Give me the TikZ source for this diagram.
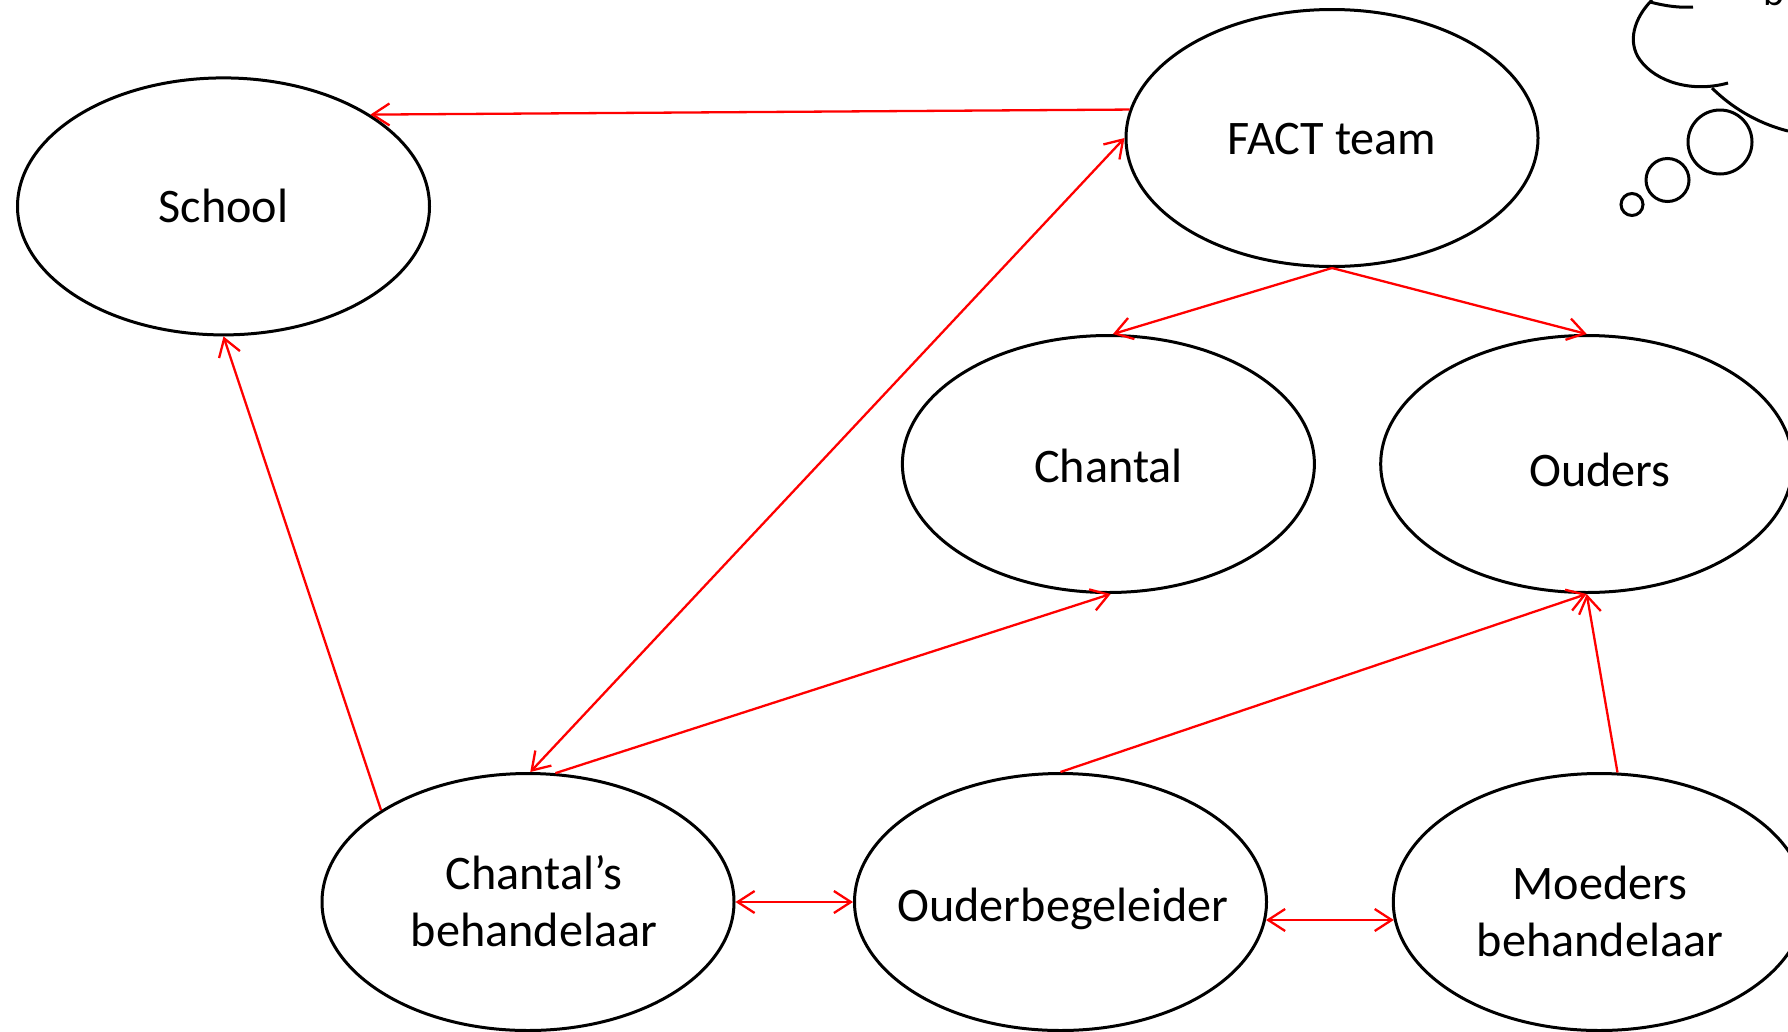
\documentclass[tikz,border=0pt]{standalone}
\usepackage{fontspec}
\setmainfont{Carlito}
\usetikzlibrary{shapes.geometric,arrows.meta}

\tikzset{
  oval/.style={ellipse, draw=black, line width=3pt, minimum width=412pt,
    minimum height=257pt, inner sep=0pt},
  caption/.style={inner sep=0pt, align=center,
    font=\fontsize{48.2}{57}\selectfont},
  link/.style={draw=red, line width=2.3pt,
    -{Straight Barb[length=17pt,width=22pt]}},
  twoway/.style={draw=red, line width=2.3pt,
    {Straight Barb[length=17pt,width=22pt]}-{Straight Barb[length=17pt,width=22pt]}},
  bubble/.style={draw=black, line width=3pt}
}

\begin{document}
\begin{tikzpicture}[x=1pt,y=-1pt]
\useasboundingbox (0,0) rectangle (1788,1031);

% the people and organisations
\node[oval] (school)  at (223.5,206.4) {};
\node[oval] (fact)    at (1332,138)    {};
\node[oval] (chantal) at (1108.4,464)  {};
\node[oval] (ouders)  at (1586.7,464)  {};
\node[oval] (cbeh)    at (528,902)     {};
\node[oval] (obeg)    at (1060.5,902)  {};
\node[oval] (mbeh)    at (1599.3,902)  {};

% their names
\node[caption] (school-t)  at (223.5,206.4) {School};
\node[caption] (fact-t)    at (1332,139)    {FACT team};
\node[caption] (chantal-t) at (1108.4,466)  {Chantal};
\node[caption] (ouders-t)  at (1600,470)    {Ouders};
\node[caption] (cbeh-t)    at (534,901)     {Chantal’s\\behandelaar};
\node[caption] (obeg-t)    at (1063,909)    {Ouderbegeleider};
\node[caption] (mbeh-t)    at (1600,911)    {Moeders\\behandelaar};

% contacts between them
\draw[link]   (fact.172)  -- (school.32);
\draw[twoway] (fact.180)  -- (cbeh.89);
\draw[link]   (fact.270)  -- (chantal.88);
\draw[link]   (fact.270)  -- (ouders.90);
\draw[link]   (cbeh.148)  -- (school.270);
\draw[link]   (cbeh.78)   -- (chantal.271);
\draw[link]   (obeg.90)   -- (ouders.270);
\draw[link]   (mbeh.82)   -- (ouders.270);
\draw[twoway] (cbeh.0)    -- (obeg.180);
\draw[twoway] (obeg.355)  -- (mbeh.185);

% thought cloud in the corner
\draw[bubble] (1650,2) .. controls (1665,6) and (1680,8) .. (1693,7);
\draw[bubble] (1652,0) .. controls (1634,18) and (1627,42) .. (1640,60)
                       .. controls (1656,82) and (1692,93) .. (1728,83);
\draw[bubble] (1712,88) .. controls (1730,106) and (1756,123) .. (1788,131);
\node[bubble, circle, inner sep=0pt, minimum size=64pt] (puff1) at (1720,142) {};
\node[bubble, circle, inner sep=0pt, minimum size=43pt] (puff2) at (1667.5,180) {};
\node[bubble, circle, inner sep=0pt, minimum size=22pt] (puff3) at (1632,204.5) {};
\node[anchor=base west, inner sep=0pt, font=\fontsize{40}{48}\selectfont] (cloudtext) at (1763,5) {b};
\end{tikzpicture}
\end{document}
